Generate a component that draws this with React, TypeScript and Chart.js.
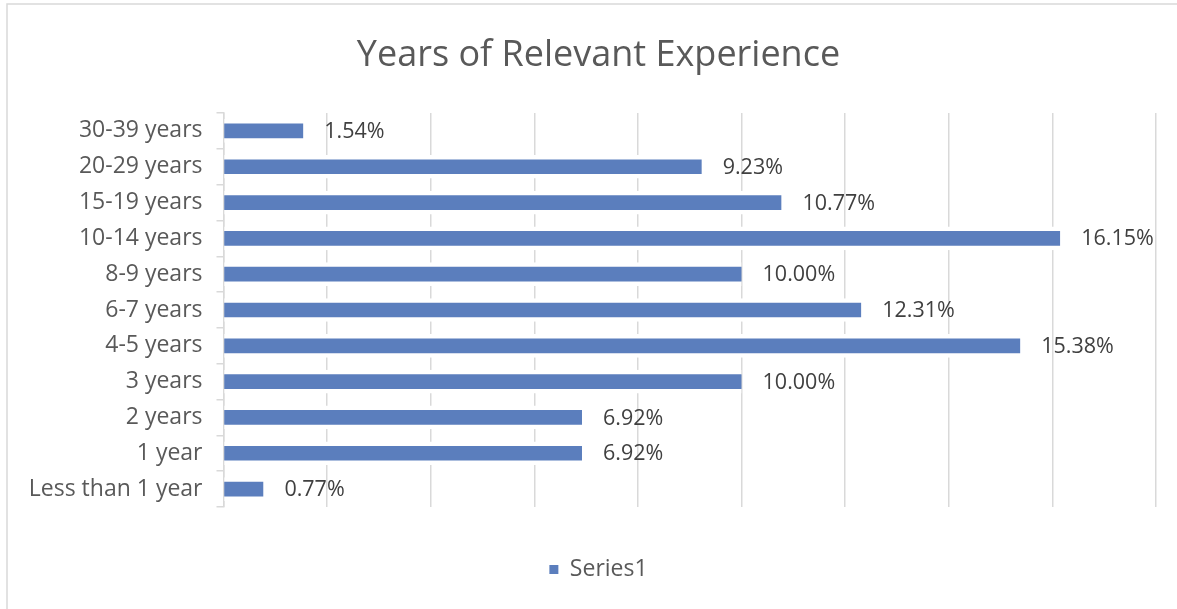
import React, { useEffect, useRef } from "react";
import { Chart, registerables } from "chart.js";

Chart.register(...registerables);

const categories = [
  "30-39 years",
  "20-29 years",
  "15-19 years",
  "10-14 years",
  "8-9 years",
  "6-7 years",
  "4-5 years",
  "3 years",
  "2 years",
  "1 year",
  "Less than 1 year",
];
const values = [1.54, 9.23, 10.77, 16.15, 10.0, 12.31, 15.38, 10.0, 6.92, 6.92, 0.77];
const seriesName = "Series1";
const titleText = "Years of Relevant Experience";

const FONT = "'Open Sans', 'Noto Sans', sans-serif";
const BAR = "#5b7ebd";
const GRID = "#d9d9d9";

const labelPlugin = {
  id: "barLabels",
  afterDatasetsDraw(chart: any) {
    const ctx = chart.ctx;
    const meta = chart.getDatasetMeta(0);
    ctx.save();
    ctx.font = `21.5px ${FONT}`;
    ctx.fillStyle = "#404040";
    ctx.textAlign = "left";
    ctx.textBaseline = "middle";
    meta.data.forEach((el: any, i: number) => {
      const v = values[i];
      ctx.fillText(v.toFixed(2) + "%", el.x + 21, el.y + 1);
    });
    ctx.restore();
  },
};

const borderPlugin = {
  id: "frame",
  beforeDraw(chart: any) {
    const ctx = chart.ctx;
    ctx.save();
    ctx.fillStyle = "#ffffff";
    ctx.fillRect(0, 0, chart.width, chart.height);
    ctx.strokeStyle = GRID;
    ctx.lineWidth = 1.5;
    ctx.beginPath();
    ctx.moveTo(7, chart.height + 5);
    ctx.lineTo(7, 4);
    ctx.lineTo(chart.width + 5, 4);
    ctx.stroke();
    ctx.restore();
  },
};

export default function App() {
  const ref = useRef<HTMLCanvasElement>(null);
  useEffect(() => {
    if (!ref.current) return;
    const chart = new Chart(ref.current, {
      type: "bar",
      data: {
        labels: categories,
        datasets: [
          {
            label: seriesName,
            data: values,
            backgroundColor: BAR,
            borderColor: "#ffffff",
            borderWidth: { top: 4.5, bottom: 4.5, left: 0, right: 0 },
            borderSkipped: false,
            barThickness: 23,
          },
        ],
      },
      options: {
        indexAxis: "y",
        animation: false,
        responsive: true,
        maintainAspectRatio: false,
        layout: { padding: { left: 41, right: 21, top: 0, bottom: 18 } },
        plugins: {
          title: {
            display: true,
            text: titleText,
            color: "#595959",
            font: { family: FONT, size: 36, weight: "normal" },
            padding: { top: 34.4, bottom: 35.4 },
          },
          legend: {
            display: true,
            position: "bottom",
            labels: {
              color: "#595959",
              font: { family: FONT, size: 23 },
              boxWidth: 9,
              boxHeight: 9,
              padding: 10,
              generateLabels: (chart: any) =>
                Chart.defaults.plugins.legend.labels
                  .generateLabels(chart)
                  .map((l: any) => ({ ...l, fillStyle: BAR, strokeStyle: BAR, lineWidth: 0 })),
            },
          },
          tooltip: { enabled: false },
        },
        scales: {
          x: {
            min: 0,
            max: 18,
            ticks: { display: false, stepSize: 2 },
            grid: { color: GRID, lineWidth: 1.5, drawTicks: false },
            border: { display: false },
            afterFit(scale: any) {
              scale.height = 41;
            },
          },
          y: {
            ticks: {
              color: "#595959",
              font: { family: FONT, size: 23 },
              padding: 14,
            },
            grid: {
              display: true,
              drawOnChartArea: false,
              offset: true,
              tickLength: 7,
              color: GRID,
              lineWidth: 1.5,
            },
            border: { display: true, color: GRID, width: 1.5 },
            afterFit(scale: any) {
              scale.width = 182.5;
              // let long category labels extend past the scale box without clipping
              scale._computeLabelArea = () => undefined;
            },
          },
        },
      },
      plugins: [labelPlugin, borderPlugin],
    });
    return () => chart.destroy();
  }, []);
  return (
    <div style={{ position: "fixed", left: 0, top: 0, width: 1177, height: 609 }}>
      <canvas ref={ref} />
    </div>
  );
}
